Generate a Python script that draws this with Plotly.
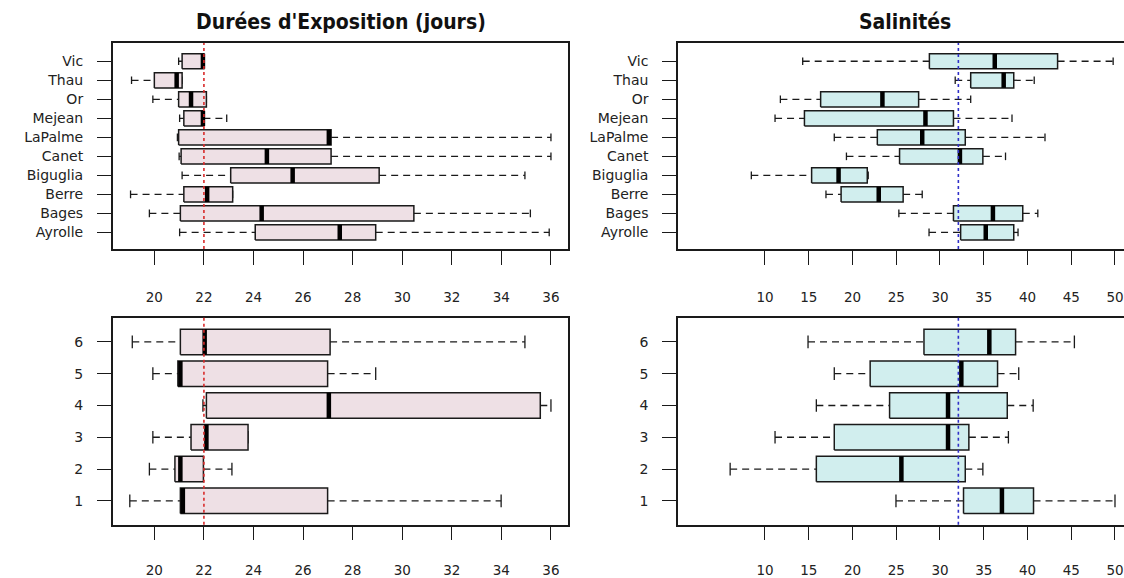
import plotly.graph_objects as go

# ---------------- data ----------------
sites = ["Ayrolle", "Bages", "Berre", "Biguglia", "Canet", "LaPalme",
         "Mejean", "Or", "Thau", "Vic"]
periods = ["1", "2", "3", "4", "5", "6"]

# each row: [min, q1, median, q3, max]
expo_sites = [
    [21.02, 24.07, 27.48, 28.93, 35.93],   # Ayrolle
    [19.80, 21.05, 24.33, 30.47, 35.17],   # Bages
    [19.04, 21.19, 22.13, 23.16, 23.16],   # Berre
    [21.12, 23.08, 25.58, 29.07, 34.95],   # Biguglia
    [21.00, 21.08, 24.54, 27.13, 36.00],   # Canet
    [20.93, 20.98, 27.04, 27.13, 36.00],   # LaPalme
    [21.02, 21.19, 21.96, 21.98, 22.92],   # Mejean
    [19.94, 20.98, 21.48, 22.10, 22.10],   # Or
    [19.08, 20.00, 20.90, 21.12, 21.12],   # Thau
    [20.98, 21.12, 21.96, 22.00, 22.00],   # Vic
]
sal_sites = [
    [28.75, 32.36, 35.23, 38.43, 38.92],   # Ayrolle
    [25.30, 31.54, 36.05, 39.46, 41.18],   # Bages
    [16.97, 18.70, 23.00, 25.79, 27.97],   # Berre
    [8.44, 15.33, 18.41, 21.69, 21.80],    # Biguglia
    [19.31, 25.38, 32.28, 34.90, 37.49],   # Canet
    [17.92, 22.84, 27.97, 32.89, 42.00],   # LaPalme
    [11.15, 14.51, 28.34, 31.54, 38.23],   # Mejean
    [11.76, 16.36, 23.42, 27.56, 33.51],   # Or
    [31.74, 33.51, 37.28, 38.43, 40.77],   # Thau
    [14.31, 28.79, 36.26, 43.44, 49.79],   # Vic
]
expo_periods = [
    [19.01, 21.05, 21.15, 26.99, 33.99],
    [19.80, 20.83, 21.05, 21.98, 23.13],
    [19.94, 21.48, 22.10, 23.78, 23.78],
    [21.96, 22.10, 27.04, 35.57, 36.00],
    [19.94, 20.95, 21.05, 26.99, 28.93],
    [19.11, 21.05, 22.03, 27.09, 34.95],
]
sal_periods = [
    [24.97, 32.69, 37.08, 40.69, 50.00],
    [6.02, 15.87, 25.59, 32.89, 34.90],
    [11.15, 17.92, 30.92, 33.30, 37.82],
    [15.87, 24.24, 30.92, 37.69, 40.65],
    [17.92, 22.02, 32.44, 36.58, 39.00],
    [14.92, 28.17, 35.64, 38.64, 45.36],
]

expo_ticks = [20, 22, 24, 26, 28, 30, 32, 34, 36]
sal_ticks = [10, 15, 20, 25, 30, 35, 40, 45, 50]
expo_ref = 22.0
sal_ref = 32.1

title_expo = "Durées d'Exposition (jours)"
title_sal = "Salinités"

# ---------------- styling ----------------
W, H = 1124, 578
FILL_EXPO = "#EEE0E5"
FILL_SAL = "#D1EEEE"
INK = "#1a1a1a"
BOXW = 0.4      # half box width
STAPLE = 0.2    # half staple width
FONT = "DejaVu Sans, Verdana, sans-serif"


def px_x(p):
    return p / W


def px_y(p):
    return 1 - p / H


fig = go.Figure()


def add_panel(stats, labels, fill, xa, ya, ref, refcolor):
    pos = list(range(1, len(labels) + 1))
    wx, wy, sx, sy, bx, by, mx, my = [], [], [], [], [], [], [], []
    for p, (mn, q1, md, q3, mxv) in zip(pos, stats):
        wx += [mn, q1, None, q3, mxv, None]
        wy += [p, p, None, p, p, None]
        sx += [mn, mn, None, mxv, mxv, None]
        sy += [p - STAPLE, p + STAPLE, None, p - STAPLE, p + STAPLE, None]
        bx += [q1, q3, q3, q1, q1, None]
        by += [p - BOXW, p - BOXW, p + BOXW, p + BOXW, p - BOXW, None]
        mx += [md, md, None]
        my += [p - BOXW, p + BOXW, None]
    common = dict(xaxis=xa, yaxis=ya, mode="lines", hoverinfo="skip",
                  showlegend=False)
    fig.add_trace(go.Scatter(x=wx, y=wy, line=dict(color=INK, width=1.3, dash="7px,5px"), **common))
    fig.add_trace(go.Scatter(x=sx, y=sy, line=dict(color=INK, width=1.3), **common))
    fig.add_trace(go.Scatter(x=bx, y=by, fill="toself", fillcolor=fill,
                             line=dict(color=INK, width=1.5), **common))
    fig.add_trace(go.Scatter(x=mx, y=my, line=dict(color="black", width=4.5), **common))
    fig.add_shape(type="line", xref=xa, yref=ya + " domain", x0=ref, x1=ref, y0=0, y1=1,
                  line=dict(color=refcolor, width=1.6, dash="dot"), layer="above")


add_panel(expo_sites, sites, FILL_EXPO, "x", "y", expo_ref, "#D92B2B")
add_panel(sal_sites, sites, FILL_SAL, "x2", "y2", sal_ref, "#3030C8")
add_panel(expo_periods, periods, FILL_EXPO, "x3", "y3", expo_ref, "#D92B2B")
add_panel(sal_periods, periods, FILL_SAL, "x4", "y4", sal_ref, "#3030C8")

left_dom = [px_x(112.7), px_x(568.3)]
right_dom = [px_x(678.0), 1.0]
top_dom = [px_y(250.7), px_y(43.3)]
bot_dom = [px_y(528.3), px_y(320.0)]

xtickfont = dict(family=FONT, size=13.5, color="#222")
ytickfont = dict(family=FONT, size=14, color="#222")


def xaxis(dom, rng, ticks, anchor, standoff):
    return dict(domain=dom, range=rng, tickvals=ticks, ticks="outside", ticklen=14,
                tickwidth=1.3, tickcolor=INK, showline=True, linecolor=INK, linewidth=1.5,
                mirror=True, showgrid=False, zeroline=False, tickfont=xtickfont,
                anchor=anchor, ticklabelstandoff=standoff, ticklabeloverflow="allow",
                fixedrange=True)


def yaxis(dom, rng, labels, anchor, mirror):
    return dict(domain=dom, range=rng, tickvals=list(range(1, len(labels) + 1)),
                ticktext=labels, ticks="outside", ticklen=14, tickwidth=1.3,
                tickcolor=INK, showline=True, linecolor=INK, linewidth=1.5,
                mirror=mirror, showgrid=False, zeroline=False, tickfont=ytickfont,
                anchor=anchor, ticklabelstandoff=11, fixedrange=True)


fig.update_layout(
    width=W, height=H, margin=dict(l=0, r=0, t=0, b=0),
    paper_bgcolor="white", plot_bgcolor="white",
    xaxis=xaxis(left_dom, [18.32, 36.70], expo_ticks, "y", 21),
    yaxis=yaxis(top_dom, [0.13, 10.96], sites, "x", True),
    xaxis2=xaxis(right_dom, [0.06, 51.03], sal_ticks, "y2", 21),
    yaxis2=yaxis(top_dom, [0.13, 10.96], sites, "x2", False),
    xaxis3=xaxis(left_dom, [18.32, 36.70], expo_ticks, "y3", 18),
    yaxis3=yaxis(bot_dom, [0.25, 6.76], periods, "x3", True),
    xaxis4=xaxis(right_dom, [0.06, 51.03], sal_ticks, "y4", 18),
    yaxis4=yaxis(bot_dom, [0.25, 6.76], periods, "x4", False),
)

title_font = dict(family="Liberation Sans Narrow, DejaVu Sans Condensed, Arial Narrow, sans-serif",
                  size=21, color="#111")
fig.add_annotation(text="<b>" + title_expo + "</b>", xref="paper", yref="paper",
                   x=(left_dom[0] + left_dom[1]) / 2, y=px_y(22), showarrow=False,
                   font=title_font, xanchor="center", yanchor="middle")
fig.add_annotation(text="<b>" + title_sal + "</b>", xref="paper", yref="paper",
                   x=px_x(905), y=px_y(22), showarrow=False,
                   font=title_font, xanchor="center", yanchor="middle")

fig.write_html("out.html", config={"displayModeBar": False},
               post_script="document.body.style.margin='0';document.body.style.overflow='hidden';")
